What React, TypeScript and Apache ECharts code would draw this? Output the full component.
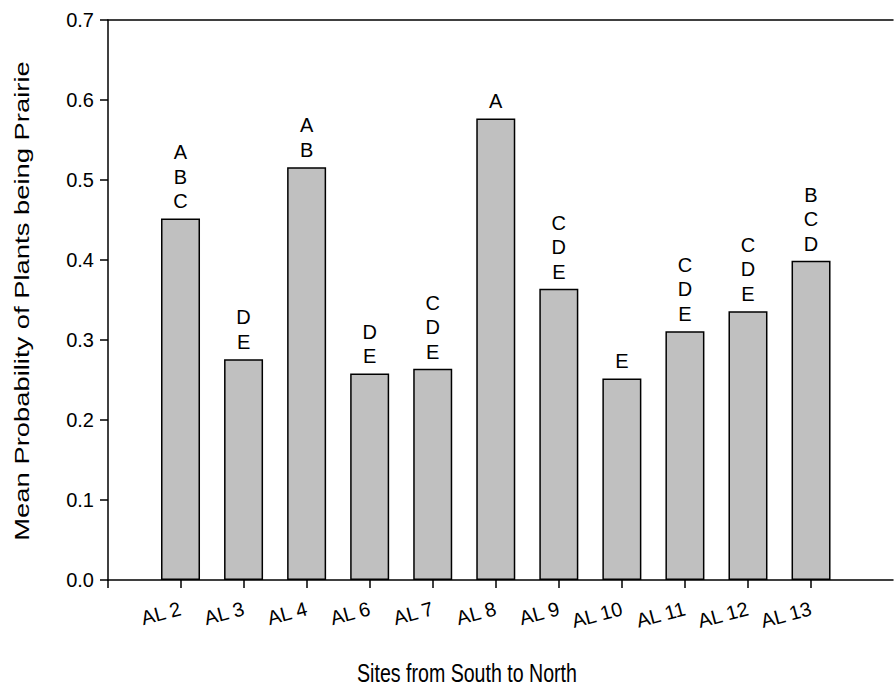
import React, { useEffect, useRef } from "react";
import * as echarts from "echarts";

// Sites ordered from south to north
const sites = ["AL 2", "AL 3", "AL 4", "AL 6", "AL 7", "AL 8", "AL 9", "AL 10", "AL 11", "AL 12", "AL 13"];
// Mean probability of plants being prairie at each site
const meanProbability = [0.452, 0.276, 0.516, 0.258, 0.264, 0.577, 0.364, 0.252, 0.311, 0.336, 0.399];
// Significance groupings shown above each bar
const groupLetters = ["ABC", "DE", "AB", "DE", "CDE", "A", "CDE", "E", "CDE", "CDE", "BCD"];
// Value-axis ticks
const yTicks = [0, 0.1, 0.2, 0.3, 0.4, 0.5, 0.6, 0.7];

const FONT = "'Liberation Sans', Arial, Helvetica, sans-serif";

export default function App() {
  const ref = useRef<HTMLDivElement>(null);

  useEffect(() => {
    document.body.style.margin = "0";
    if (!ref.current) return;
    const chart = echarts.init(ref.current, null, { renderer: "svg" });

    const positions = sites.map((_, i) => i + 1);
    const xMin = -0.15;
    const xMax = 12.3;

    chart.setOption({
      animation: false,
      backgroundColor: "#ffffff",
      textStyle: { fontFamily: FONT },
      grid: {
        left: 108,
        right: 2,
        top: 20,
        bottom: 108,
        containLabel: false,
        outerBoundsMode: "none",
      },
      xAxis: [
        {
          type: "value",
          min: xMin,
          max: xMax,
          position: "bottom",
          splitLine: { show: false },
          axisLine: { show: true, onZero: false, lineStyle: { color: "#000", width: 1.5 } },
          axisTick: {
            show: true,
            length: 8,
            inside: false,
            customValues: [xMin, ...positions],
            lineStyle: { color: "#000", width: 1.5 },
          },
          axisLabel: {
            customValues: positions,
            rotate: 15,
            margin: 28,
            fontSize: 20,
            color: "#000",
            fontFamily: FONT,
            formatter: (v: number) => sites[Math.round(v) - 1] ?? "",
          },
        },
        {
          type: "value",
          min: xMin,
          max: xMax,
          position: "top",
          splitLine: { show: false },
          axisLine: { show: true, onZero: false, lineStyle: { color: "#000", width: 1.5 } },
          axisTick: { show: false },
          axisLabel: { show: false },
        },
      ],
      yAxis: {
        type: "value",
        min: yTicks[0],
        max: yTicks[yTicks.length - 1],
        interval: 0.1,
        splitLine: { show: false },
        axisLine: { show: true, onZero: false, lineStyle: { color: "#000", width: 1.5 } },
        axisTick: { show: true, length: 8, lineStyle: { color: "#000", width: 1.5 } },
        axisLabel: {
          margin: 14,
          fontSize: 20,
          color: "#000",
          fontFamily: FONT,
          formatter: (v: number) => v.toFixed(1),
        },
      },
      series: [
        {
          type: "bar",
          xAxisIndex: 0,
          barWidth: 39,
          data: meanProbability.map((v, i) => [positions[i], v]),
          itemStyle: { color: "#c0c0c0", borderColor: "#000", borderWidth: 1.5 },
          label: {
            show: true,
            position: "top",
            distance: 5,
            fontSize: 20,
            lineHeight: 24.5,
            color: "#000",
            fontFamily: FONT,
            align: "center",
            formatter: (p: any) => groupLetters[p.dataIndex].split("").join("\n"),
          },
        },
      ],
      graphic: [
        {
          type: "text",
          x: 22,
          y: 301,
          rotation: Math.PI / 2,
          scaleX: 1.37,
          style: {
            text: "Mean Probability of Plants being Prairie",
            fontSize: 20,
            fontFamily: FONT,
            fill: "#000",
            textAlign: "center",
            textVerticalAlign: "middle",
          },
        },
        {
          type: "text",
          x: 467,
          y: 673,
          scaleY: 1.35,
          style: {
            text: "Sites from South to North",
            fontSize: 19.6,
            fontFamily: FONT,
            fill: "#000",
            textAlign: "center",
            textVerticalAlign: "middle",
          },
        },
      ],
    });

    return () => chart.dispose();
  }, []);

  return <div ref={ref} style={{ width: 895, height: 688 }} />;
}
